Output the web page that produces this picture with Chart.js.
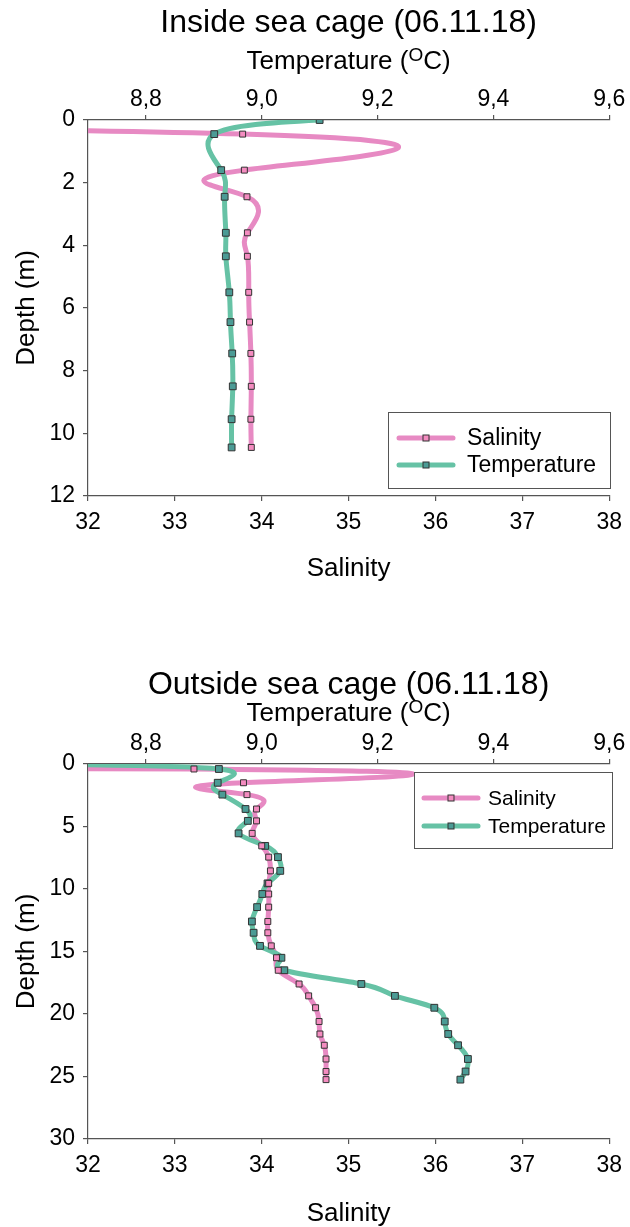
<!DOCTYPE html>
<html>
<head>
<meta charset="utf-8">
<title>Sea cage profiles</title>
<script src="https://cdn.jsdelivr.net/npm/chart.js@4.4.1/dist/chart.umd.min.js"></script>
<style>
  body { margin: 0; background: #fff; }
  .box { position: relative; width: 630px; }
</style>
</head>
<body>
<div class="box" style="height:600px"><canvas id="insideChart"></canvas></div>
<div class="box" style="height:627px"><canvas id="outsideChart"></canvas></div>
<script>
// inside sea cage, 06.11.18 (first reading is the surface one, off the axis)
const insideDepth = [0, 0.45, 1.6, 2.45, 3.6, 4.35, 5.5, 6.45, 7.45, 8.5, 9.55, 10.45];
const insideSalinity = [11.1, 33.78, 33.80, 33.83, 33.835, 33.835, 33.85, 33.86, 33.875, 33.88, 33.875, 33.88];
const insideTemperature = [9.10, 8.918, 8.93, 8.936, 8.938, 8.938, 8.944, 8.946, 8.949, 8.95, 8.948, 8.948];

// outside sea cage, 06.11.18
const outsideDepth = [0, 0.4, 1.5, 2.45, 3.6, 4.55, 5.55, 6.55, 7.45, 8.55, 9.55, 10.4, 11.45, 12.6, 13.5,
  14.55, 15.5, 16.5, 17.6, 18.55, 19.5, 20.6, 21.6, 22.5, 23.6, 24.6, 25.25];
const outsideSalinity = [4, 33.22, 33.79, 33.83, 33.94, 33.94, 33.89, 34.0, 34.08, 34.10, 34.08, 34.08, 34.08,
  34.07, 34.07, 34.11, 34.17, 34.19, 34.43, 34.54, 34.62, 34.66, 34.67, 34.72, 34.74, 34.74, 34.74];
const outsideTemperature = [8.58, 8.926, 8.924, 8.932, 8.972, 8.976, 8.96, 9.006, 9.028, 9.032, 9.01, 9.001, 8.992,
  8.983, 8.986, 8.997, 9.034, 9.039, 9.172, 9.23, 9.298, 9.316, 9.322, 9.339, 9.356, 9.352, 9.343];

const salinityTicks = [32, 33, 34, 35, 36, 37, 38];
const temperatureTicks = [8.8, 9.0, 9.2, 9.4, 9.6];

const FONT = '"Liberation Sans", Arial, sans-serif';
const PINK = '#e78ac3', PINK_PT = '#f48cc0';
const TEAL = '#66c2a5', TEAL_PT = '#4b9b95';
const AXIS = '#555';

// derivatives of a natural cubic spline with uniform knots
function splineDerivs(v) {
  const n = v.length;
  const b = [], c = [], d = [];
  for (let i = 0; i < n; i++) {
    b[i] = (i === 0 || i === n - 1) ? 2 : 4;
    c[i] = i === n - 1 ? 0 : 1;
    if (i === 0) d[i] = 3 * (v[1] - v[0]);
    else if (i === n - 1) d[i] = 3 * (v[n - 1] - v[n - 2]);
    else d[i] = 3 * (v[i + 1] - v[i - 1]);
  }
  for (let i = 1; i < n; i++) {
    const m = 1 / b[i - 1];
    b[i] -= m * c[i - 1];
    d[i] -= m * d[i - 1];
  }
  const D = new Array(n);
  D[n - 1] = d[n - 1] / b[n - 1];
  for (let i = n - 2; i >= 0; i--) D[i] = (d[i] - c[i] * D[i + 1]) / b[i];
  return D;
}

// smooth lines under the markers
const splinePlugin = {
  id: 'splineLines',
  beforeDatasetsDraw(chart) {
    const ctx = chart.ctx, a = chart.chartArea;
    ctx.save();
    ctx.beginPath();
    ctx.rect(a.left, a.top, a.right - a.left, a.bottom - a.top);
    ctx.clip();
    chart.data.datasets.forEach((ds, i) => {
      const pts = chart.getDatasetMeta(i).data;
      const xs = pts.map(p => p.x), ys = pts.map(p => p.y);
      const dx = splineDerivs(xs), dy = splineDerivs(ys);
      ctx.beginPath();
      ctx.moveTo(xs[0], ys[0]);
      for (let k = 0; k < pts.length - 1; k++) {
        ctx.bezierCurveTo(xs[k] + dx[k] / 3, ys[k] + dy[k] / 3,
          xs[k + 1] - dx[k + 1] / 3, ys[k + 1] - dy[k + 1] / 3, xs[k + 1], ys[k + 1]);
      }
      ctx.strokeStyle = ds.borderColor;
      ctx.lineWidth = 5;
      ctx.lineJoin = 'round';
      ctx.lineCap = 'round';
      ctx.stroke();
    });
    ctx.restore();
  }
};

function legendRow(ctx, x, y, o, line, fill, label) {
  ctx.strokeStyle = line;
  ctx.lineWidth = 5;
  ctx.lineCap = 'round';
  ctx.beginPath();
  ctx.moveTo(x, y);
  ctx.lineTo(x + o.lineLen, y);
  ctx.stroke();
  const m = x + o.lineLen / 2;
  ctx.fillStyle = fill;
  ctx.fillRect(m - 3, y - 3, 6, 6);
  ctx.strokeStyle = '#333';
  ctx.lineWidth = 1;
  ctx.strokeRect(m - 3, y - 3, 6, 6);
  ctx.fillStyle = '#000';
  ctx.font = o.legendSize + 'px ' + FONT;
  ctx.textAlign = 'left';
  ctx.textBaseline = 'middle';
  ctx.fillText(label, o.textX, y + 1);
}

// titles, axis names and the boxed legend
const decorPlugin = {
  id: 'decor',
  afterDraw(chart, args, o) {
    const ctx = chart.ctx, a = chart.chartArea;
    const cx = (a.left + a.right) / 2;
    ctx.save();
    ctx.fillStyle = '#000';
    ctx.textBaseline = 'alphabetic';
    ctx.textAlign = 'center';
    ctx.font = o.titleSize + 'px ' + FONT;
    ctx.fillText(o.title, cx, o.titleY);

    // Temperature (°C) with a raised O
    const big = o.tempSize + 'px ' + FONT, small = Math.round(o.tempSize * 0.72) + 'px ' + FONT;
    ctx.font = big;
    const w1 = ctx.measureText('Temperature (').width, w3 = ctx.measureText('C)').width;
    ctx.font = small;
    const w2 = ctx.measureText('O').width;
    let x = cx - (w1 + w2 + w3) / 2;
    ctx.textAlign = 'left';
    ctx.font = big;
    ctx.fillText('Temperature (', x, o.tempY);
    ctx.font = small;
    ctx.fillText('O', x + w1, o.tempY - o.tempSize * 0.3);
    ctx.font = big;
    ctx.fillText('C)', x + w1 + w2, o.tempY);

    ctx.textAlign = 'center';
    ctx.font = o.axisSize + 'px ' + FONT;
    ctx.fillText('Salinity', cx, o.salY);

    ctx.save();
    ctx.translate(27, (a.top + a.bottom) / 2);
    ctx.rotate(-Math.PI / 2);
    ctx.textBaseline = 'middle';
    ctx.fillText('Depth (m)', 0, 0);
    ctx.restore();

    const L = o.legend;
    ctx.fillStyle = '#fff';
    ctx.fillRect(L.x, L.y, L.w, L.h);
    ctx.strokeStyle = AXIS;
    ctx.lineWidth = 1;
    ctx.strokeRect(L.x + 0.5, L.y + 0.5, L.w, L.h);
    legendRow(ctx, L.lineX, L.y + L.row1, L, PINK, PINK_PT, 'Salinity');
    legendRow(ctx, L.lineX, L.y + L.row2, L, TEAL, TEAL_PT, 'Temperature');
    ctx.restore();
  }
};

function makeChart(id, depth, sal, temp, cfg) {
  const tickFont = { family: FONT, size: 23 };
  const gridOpts = { drawOnChartArea: false, drawTicks: true, tickLength: 5, color: AXIS, lineWidth: 1.2 };
  return new Chart(document.getElementById(id), {
    type: 'scatter',
    data: {
      datasets: [{
        label: 'Salinity',
        data: depth.map((d, i) => ({ x: sal[i], y: d })),
        xAxisID: 'x',
        showLine: false,
        borderColor: PINK,
        pointStyle: 'rect',
        pointRadius: 4.2,
        pointBackgroundColor: PINK_PT,
        pointBorderColor: '#333',
        pointBorderWidth: 1
      }, {
        label: 'Temperature',
        data: depth.map((d, i) => ({ x: temp[i], y: d })),
        xAxisID: 'x2',
        showLine: false,
        borderColor: TEAL,
        pointStyle: 'rect',
        pointRadius: 4.8,
        pointBackgroundColor: TEAL_PT,
        pointBorderColor: '#333',
        pointBorderWidth: 1
      }]
    },
    options: {
      responsive: true,
      maintainAspectRatio: false,
      animation: false,
      events: [],
      layout: { padding: { left: 0, right: 20, top: 0, bottom: 0 } },
      scales: {
        x: {
          type: 'linear', position: 'bottom', min: 32, max: 38,
          afterBuildTicks: s => { s.ticks = salinityTicks.map(v => ({ value: v })); },
          afterFit: s => { s.height = cfg.bottomH; },
          ticks: { font: tickFont, color: '#000', padding: 8, maxRotation: 0 },
          grid: gridOpts,
          border: { color: AXIS, width: 1.2 }
        },
        x2: {
          type: 'linear', position: 'top', min: 8.7, max: 9.6,
          afterBuildTicks: s => { s.ticks = temperatureTicks.map(v => ({ value: v })); },
          afterFit: s => { s.height = cfg.topH; },
          ticks: { font: tickFont, color: '#000', padding: 2, maxRotation: 0,
            callback: v => v.toFixed(1).replace('.', ',') },
          grid: gridOpts,
          border: { color: AXIS, width: 1.2 }
        },
        y: {
          type: 'linear', reverse: true, min: 0, max: cfg.depthMax,
          afterFit: s => { s.width = 88; },
          ticks: { stepSize: cfg.depthStep, font: tickFont, color: '#000', padding: 8 },
          grid: gridOpts,
          border: { color: AXIS, width: 1.2 }
        }
      },
      plugins: {
        legend: { display: false },
        tooltip: { enabled: false },
        decor: cfg.decor
      }
    },
    plugins: [splinePlugin, decorPlugin]
  });
}

makeChart('insideChart', insideDepth, insideSalinity, insideTemperature, {
  topH: 120, bottomH: 104, depthMax: 12, depthStep: 2,
  decor: {
    title: 'Inside sea cage (06.11.18)', titleSize: 32, titleY: 32,
    tempSize: 26, tempY: 69, axisSize: 26, salY: 576,
    legend: { x: 388, y: 412, w: 222, h: 76, row1: 26, row2: 53, lineX: 399, lineLen: 54, textX: 467, legendSize: 23 }
  }
});

makeChart('outsideChart', outsideDepth, outsideSalinity, outsideTemperature, {
  topH: 164, bottomH: 88, depthMax: 30, depthStep: 5,
  decor: {
    title: 'Outside sea cage (06.11.18)', titleSize: 32, titleY: 94,
    tempSize: 26, tempY: 121, axisSize: 26, salY: 621,
    legend: { x: 414, y: 172, w: 198, h: 76, row1: 26, row2: 54, lineX: 424, lineLen: 54, textX: 488, legendSize: 21 }
  }
});
</script>
</body>
</html>
